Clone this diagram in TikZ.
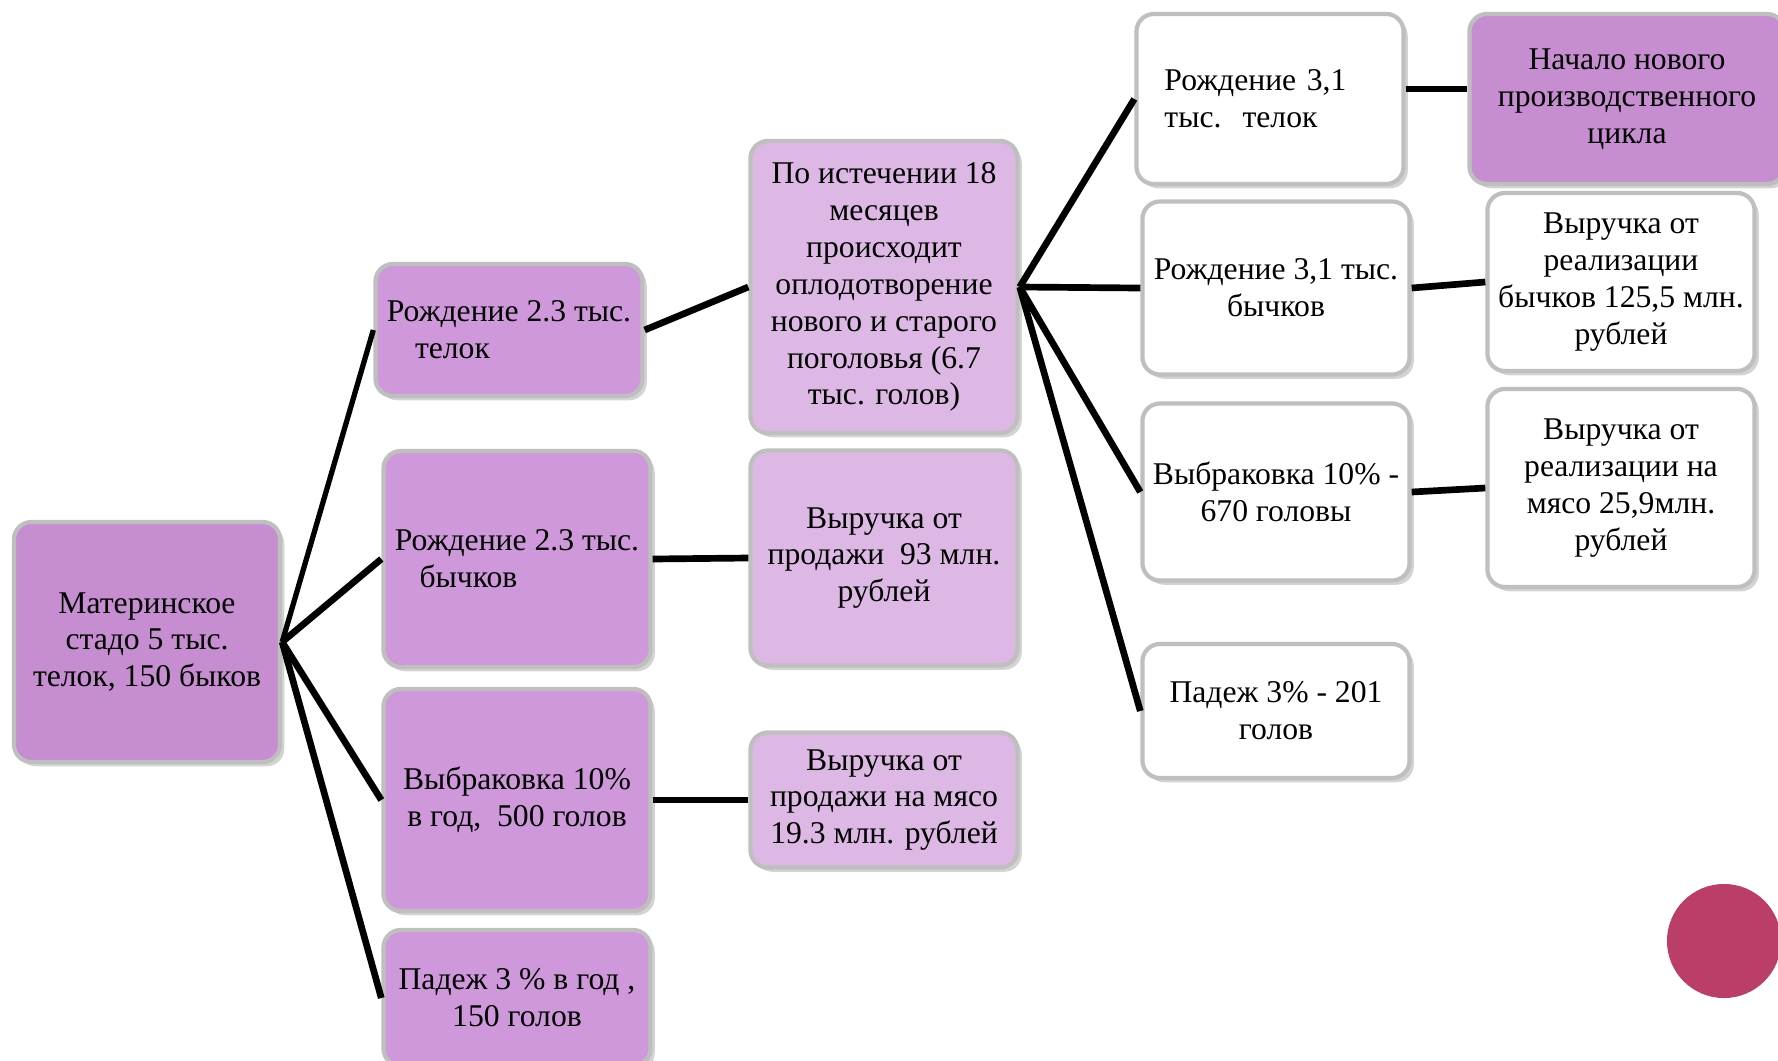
\documentclass[tikz,border=0pt]{standalone}
\usepackage{fontspec}
\setmainfont{Liberation Serif}
\usetikzlibrary{shadows}
\definecolor{orchid}{HTML}{C68DD1}
\definecolor{lilac}{HTML}{CE98DA}
\definecolor{pale}{HTML}{DDB8E5}
\definecolor{dotred}{HTML}{BB3E68}
\tikzset{
    cell/.style = {
        shape=rectangle,
        rounded corners=5pt,
        draw=gray!50,
        line width=1.2pt,
        align=center,
        minimum width=2.67cm,
        inner sep=2pt,
        font=\fontsize{9}{10.5}\selectfont,
        drop shadow={shadow xshift=1.2pt, shadow yshift=-1.2pt, opacity=0.35}},
    root/.style = {
        cell,
        fill=orchid},
    stage/.style = {
        cell,
        fill=lilac},
    income/.style = {
        cell,
        fill=pale},
    blank/.style = {
        cell,
        fill=white},
    link/.style = {
        draw,
        line width=1.9pt}
}

\begin{document}
\begin{tikzpicture}[
    x = 0.01cm,
    y = -0.01cm
]
\useasboundingbox (0,0) rectangle (1778,1060);

% mother herd and first year
\node [root, minimum width=2.66cm, minimum height=2.40cm] (herd) at (147,642)
    {Материнское\\стадо 5 тыс.\\телок, 150 быков};
\node [stage, minimum height=1.32cm, align=left] (heifers) at (509,330)
    {Рождение 2.3 тыс.\\\hspace*{8pt}телок};
\node [stage, minimum height=2.16cm, align=left] (bulls) at (517,559)
    {Рождение 2.3 тыс.\\\hspace*{7pt}бычков};
\node [stage, minimum height=2.22cm] (culling) at (517,800)
    {Выбраковка 10\%\\в год,~~500 голов};
\node [stage, minimum height=1.36cm] (loss) at (517,998)
    {Падеж 3 \% в год ,\\150 голов};

\node [income, minimum height=2.92cm] (mating) at (884,287)
    {По истечении 18\\месяцев\\происходит\\оплодотворение\\нового и старого\\поголовья (6.7\\тыс. голов)};
\node [income, minimum height=2.15cm] (sale) at (884,558)
    {Выручка от\\продажи~~93 млн.\\рублей};
\node [income, minimum height=1.35cm] (meat) at (884,800)
    {Выручка от\\продажи на мясо\\19.3 млн. рублей};

% second generation
\node [blank, minimum height=1.70cm, text width=2.11cm, align=left] (calves) at (1270,99)
    {Рождение 3,1\\тыс.~~телок};
\node [root, minimum width=3.15cm, minimum height=1.70cm] (cycle) at (1627,99)
    {Начало нового\\производственного\\цикла};
\node [blank, minimum height=1.73cm] (steers) at (1276,288)
    {Рождение 3,1 тыс.\\бычков};
\node [blank, minimum height=1.78cm] (steersale) at (1621,282)
    {Выручка от\\реализации\\бычков 125,5 млн.\\рублей};
\node [blank, minimum height=1.77cm] (culled) at (1276,492)
    {Выбраковка 10\% -\\670 головы};
\node [blank, minimum height=1.98cm] (meatsale) at (1621,488)
    {Выручка от\\реализации на\\мясо 25,9млн.\\рублей};
\node [blank, minimum height=1.34cm] (deaths) at (1276,711)
    {Падеж 3\% - 201\\голов};

% connectors
\draw [link, line width=1.5pt] (herd.east) -- (heifers.west);
\draw [link] (herd.east) -- (bulls.west);
\draw [link] (herd.east) -- (culling.west);
\draw [link] (herd.east) -- (loss.west);
\draw [link] (heifers.east) -- (mating.west);
\draw [link] (bulls.east) -- (sale.west);
\draw [link] (culling.east) -- (meat.west);
\draw [link] (mating.east) -- (calves.west);
\draw [link] (mating.east) -- (steers.west);
\draw [link] (mating.east) -- (culled.west);
\draw [link] (mating.east) -- (deaths.west);
\draw [link] ([yshift=0.1cm]calves.east) -- ([yshift=0.1cm]cycle.west);
\draw [link] (steers.east) -- (steersale.west);
\draw [link] (culled.east) -- (meatsale.west);

\fill [dotred] (1724,941) circle (0.57cm);

\end{tikzpicture}
\end{document}
